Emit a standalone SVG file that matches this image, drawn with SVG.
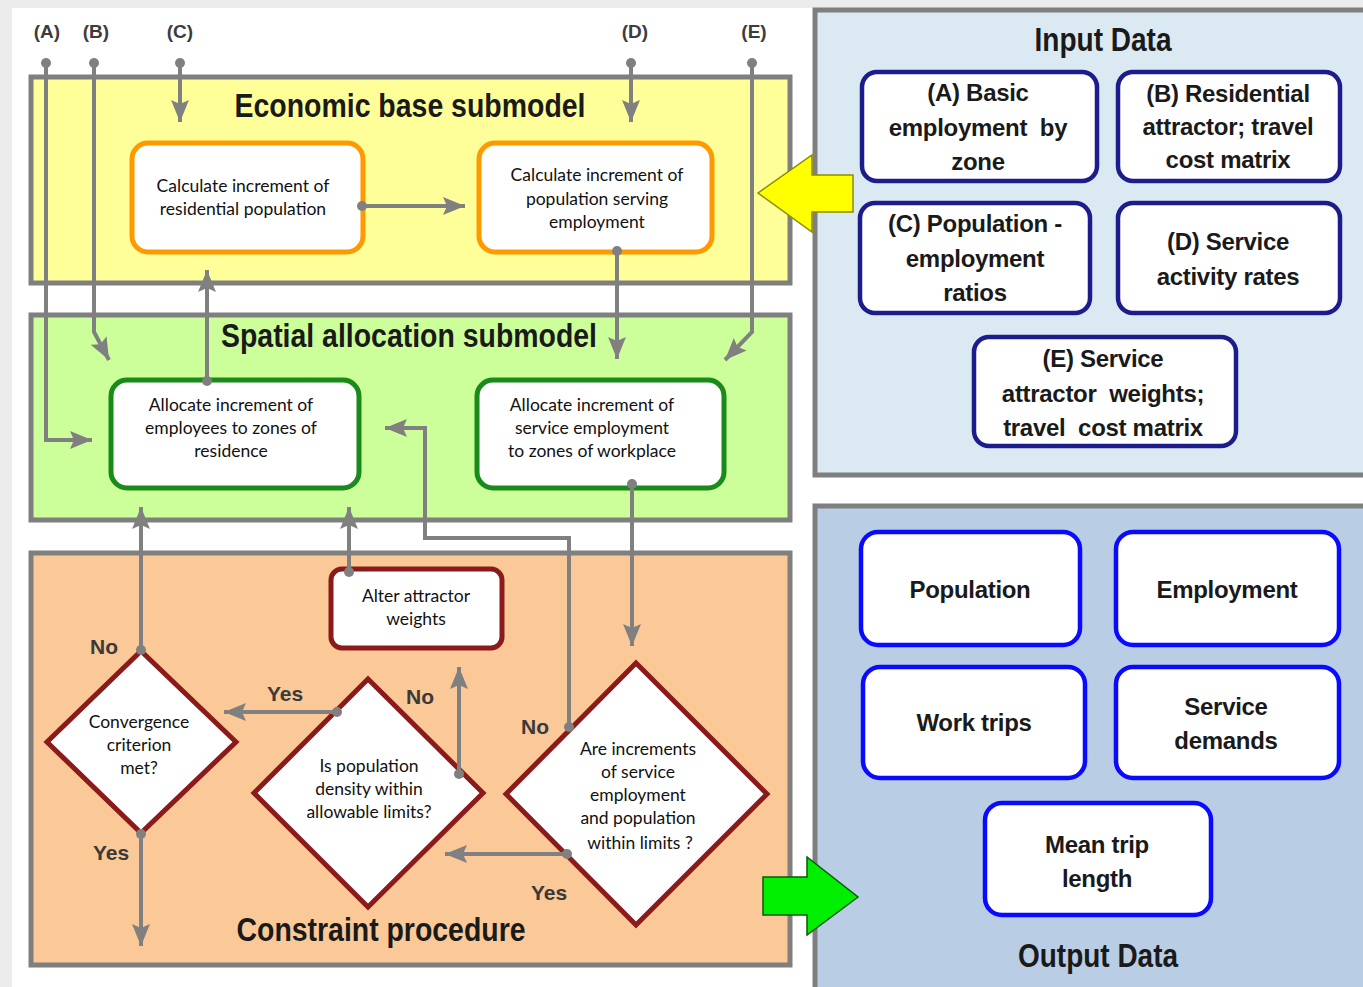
<svg xmlns="http://www.w3.org/2000/svg" width="1363" height="987" viewBox="0 0 1363 987">
  <style>
    .panel { stroke: #7f7f7f; stroke-width: 5; }
    .title { font-family: "Liberation Sans Narrow", "Liberation Sans", Arial, sans-serif; font-weight: bold; font-size: 34px; fill: #1a1a1a; text-anchor: middle; }
    .tag { font-family: "Liberation Sans Narrow", "Liberation Sans", Arial, sans-serif; font-weight: bold; font-size: 19px; fill: #3c3c3c; text-anchor: middle; }
    .yn { font-family: "Liberation Sans Narrow", "Liberation Sans", Arial, sans-serif; font-weight: bold; font-size: 21px; fill: #3a3a3a; text-anchor: middle; }
    .step { font-family: Lato, "Liberation Sans", sans-serif; font-size: 17.5px; fill: #111; text-anchor: middle; }
    .data { font-family: "Liberation Sans", Arial, sans-serif; font-weight: bold; font-size: 24px; fill: #1a1a1a; text-anchor: middle; letter-spacing: -0.3px; }
    .orange { fill: #fff; stroke: #ff9900; stroke-width: 5; }
    .green { fill: #fff; stroke: #1a8a1a; stroke-width: 5; }
    .red { fill: #fff; stroke: #8b1a1a; stroke-width: 5; }
    .navy { fill: #fff; stroke: #1c1c8c; stroke-width: 4.5; }
    .blue { fill: #fff; stroke: #0a0aff; stroke-width: 4.5; }
    .link { fill: none; stroke: #808080; stroke-width: 4; }
  </style>
  <defs>
    <marker id="head" markerUnits="userSpaceOnUse" markerWidth="24" markerHeight="20" refX="22" refY="9" orient="auto">
      <path d="M0,0 L22,9 L0,18 L4,9 z" fill="#808080"/>
    </marker>
    <marker id="dot" markerUnits="userSpaceOnUse" markerWidth="12" markerHeight="12" refX="6" refY="6" orient="auto">
      <circle cx="6" cy="6" r="5" fill="#808080"/>
    </marker>
  </defs>

  <!-- page background -->
  <rect x="0" y="0" width="1363" height="987" fill="#ececec"/>
  <rect x="12" y="8" width="1351" height="979" fill="#ffffff"/>

  <!-- submodel panels -->
  <g id="economic-base">
    <rect class="panel" x="31" y="77" width="759" height="206" fill="#ffff99"/>
    <text class="title" x="410" y="117" textLength="351" lengthAdjust="spacingAndGlyphs">Economic base submodel</text>
  </g>
  <g id="spatial-allocation">
    <rect class="panel" x="31" y="315" width="759" height="205" fill="#ccff99"/>
    <text class="title" x="409" y="347" textLength="376" lengthAdjust="spacingAndGlyphs">Spatial allocation submodel</text>
  </g>
  <g id="constraint-procedure">
    <rect class="panel" x="31" y="553" width="759" height="412" fill="#fbc897"/>
    <text class="title" x="381" y="941" textLength="289" lengthAdjust="spacingAndGlyphs">Constraint procedure</text>
  </g>

  <!-- data panels -->
  <g id="input-data">
    <rect class="panel" x="815" y="10" width="560" height="465" fill="#dbeaf2"/>
    <text class="title" x="1103" y="51" textLength="137" lengthAdjust="spacingAndGlyphs">Input Data</text>
  </g>
  <g id="output-data">
    <rect class="panel" x="815" y="506" width="560" height="495" fill="#b9cde5"/>
    <text class="title" x="1098" y="967" textLength="160" lengthAdjust="spacingAndGlyphs">Output Data</text>
  </g>

  <!-- input labels -->
  <g id="input-tags">
    <text class="tag" x="47" y="38">(A)</text>
    <text class="tag" x="96" y="38">(B)</text>
    <text class="tag" x="180" y="38">(C)</text>
    <text class="tag" x="635" y="38">(D)</text>
    <text class="tag" x="754" y="38">(E)</text>
  </g>

  <!-- block arrows between panels -->
  <path id="input-arrow" d="M758,193 L812,155 L812,175 L853,175 L853,212 L812,212 L812,232 z" fill="#ffff00" stroke="#8c8c00" stroke-width="1.5"/>
  <path id="output-arrow" d="M763,877 L807,877 L807,857 L858,897 L807,935 L807,915 L763,915 z" fill="#00ee00" stroke="#0a5a0a" stroke-width="1.5"/>

  <!-- economic base steps -->
  <g id="calc-residential">
    <rect class="orange" x="132" y="143" width="231" height="109" rx="16"/>
    <text class="step" x="243" y="192">Calculate increment of</text>
    <text class="step" x="243" y="215">residential population</text>
  </g>
  <g id="calc-serving">
    <rect class="orange" x="479" y="143" width="233" height="109" rx="16"/>
    <text class="step" x="597" y="181">Calculate increment of</text>
    <text class="step" x="597" y="205">population serving</text>
    <text class="step" x="597" y="228">employment</text>
  </g>

  <!-- spatial allocation steps -->
  <g id="alloc-residence">
    <rect class="green" x="111" y="380" width="248" height="108" rx="16"/>
    <text class="step" x="231" y="411">Allocate increment of</text>
    <text class="step" x="231" y="434">employees to zones of</text>
    <text class="step" x="231" y="457">residence</text>
  </g>
  <g id="alloc-workplace">
    <rect class="green" x="477" y="380" width="247" height="108" rx="16"/>
    <text class="step" x="592" y="411">Allocate increment of</text>
    <text class="step" x="592" y="434">service employment</text>
    <text class="step" x="592" y="457">to zones of workplace</text>
  </g>

  <!-- constraint procedure -->
  <g id="alter-weights">
    <rect class="red" x="331" y="569" width="171" height="79" rx="11"/>
    <text class="step" x="416" y="602">Alter attractor</text>
    <text class="step" x="416" y="625">weights</text>
  </g>
  <g id="convergence">
    <path class="red" d="M141,651 L236,742 L141,833 L47,742 z"/>
    <text class="step" x="139" y="728">Convergence</text>
    <text class="step" x="139" y="751">criterion</text>
    <text class="step" x="139" y="774">met?</text>
  </g>
  <g id="density-check">
    <path class="red" d="M368,679 L483,793 L368,907 L254,793 z"/>
    <text class="step" x="369" y="772">Is population</text>
    <text class="step" x="369" y="795">density within</text>
    <text class="step" x="369" y="818">allowable limits?</text>
  </g>
  <g id="increment-check">
    <path class="red" d="M636,663 L767,794 L636,925 L506,794 z"/>
    <text class="step" x="638" y="755">Are increments</text>
    <text class="step" x="638" y="778">of service</text>
    <text class="step" x="638" y="801">employment</text>
    <text class="step" x="638" y="824">and population</text>
    <text class="step" x="640" y="849">within limits ?</text>
  </g>

  <!-- decision labels -->
  <g id="decision-labels">
    <text class="yn" x="104" y="654">No</text>
    <text class="yn" x="111" y="860">Yes</text>
    <text class="yn" x="285" y="701">Yes</text>
    <text class="yn" x="420" y="704">No</text>
    <text class="yn" x="535" y="734">No</text>
    <text class="yn" x="549" y="900">Yes</text>
  </g>

  <!-- input data items -->
  <g id="in-a">
    <rect class="navy" x="862" y="72" width="235" height="109" rx="15"/>
    <text class="data" x="978" y="101">(A) Basic</text>
    <text class="data" x="978" y="136" xml:space="preserve">employment  by</text>
    <text class="data" x="978" y="170">zone</text>
  </g>
  <g id="in-b">
    <rect class="navy" x="1118" y="72" width="222" height="109" rx="15"/>
    <text class="data" x="1228" y="102">(B) Residential</text>
    <text class="data" x="1228" y="135">attractor; travel</text>
    <text class="data" x="1228" y="168">cost matrix</text>
  </g>
  <g id="in-c">
    <rect class="navy" x="860" y="203" width="230" height="110" rx="15"/>
    <text class="data" x="975" y="232">(C) Population -</text>
    <text class="data" x="975" y="267">employment</text>
    <text class="data" x="975" y="301">ratios</text>
  </g>
  <g id="in-d">
    <rect class="navy" x="1118" y="203" width="222" height="110" rx="15"/>
    <text class="data" x="1228" y="250">(D) Service</text>
    <text class="data" x="1228" y="285">activity rates</text>
  </g>
  <g id="in-e">
    <rect class="navy" x="974" y="337" width="262" height="109" rx="15"/>
    <text class="data" x="1103" y="367">(E) Service</text>
    <text class="data" x="1103" y="402" xml:space="preserve">attractor  weights;</text>
    <text class="data" x="1103" y="436" xml:space="preserve">travel  cost matrix</text>
  </g>

  <!-- output data items -->
  <g id="out-population">
    <rect class="blue" x="861" y="532" width="219" height="113" rx="17"/>
    <text class="data" x="970" y="598">Population</text>
  </g>
  <g id="out-employment">
    <rect class="blue" x="1116" y="532" width="223" height="113" rx="17"/>
    <text class="data" x="1227" y="598">Employment</text>
  </g>
  <g id="out-work-trips">
    <rect class="blue" x="863" y="667" width="222" height="111" rx="17"/>
    <text class="data" x="974" y="731">Work trips</text>
  </g>
  <g id="out-service-demands">
    <rect class="blue" x="1116" y="667" width="223" height="111" rx="17"/>
    <text class="data" x="1226" y="715">Service</text>
    <text class="data" x="1226" y="749">demands</text>
  </g>
  <g id="out-trip-length">
    <rect class="blue" x="985" y="803" width="226" height="112" rx="17"/>
    <text class="data" x="1097" y="853">Mean trip</text>
    <text class="data" x="1097" y="887">length</text>
  </g>

  <!-- connectors, drawn last so their start dots sit on the box edges -->
  <g id="connectors">
    <path class="link" d="M46,63 L46,440 L92,440" marker-start="url(#dot)" marker-end="url(#head)"/>
    <path class="link" d="M94,63 L94,332 L109,360" marker-start="url(#dot)" marker-end="url(#head)"/>
    <path class="link" d="M180,63 L180,122" marker-start="url(#dot)" marker-end="url(#head)"/>
    <path class="link" d="M631,63 L631,122" marker-start="url(#dot)" marker-end="url(#head)"/>
    <path class="link" d="M752,63 L752,332 L725,360" marker-start="url(#dot)" marker-end="url(#head)"/>
    <path class="link" d="M362,206 L465,206" marker-start="url(#dot)" marker-end="url(#head)"/>
    <path class="link" d="M617,251 L617,359" marker-start="url(#dot)" marker-end="url(#head)"/>
    <path class="link" d="M207,381 L207,270" marker-start="url(#dot)" marker-end="url(#head)"/>
    <path class="link" d="M632,484 L632,646" marker-start="url(#dot)" marker-end="url(#head)"/>
    <path class="link" d="M141,650 L141,507" marker-start="url(#dot)" marker-end="url(#head)"/>
    <path class="link" d="M349,572 L349,507" marker-start="url(#dot)" marker-end="url(#head)"/>
    <path class="link" d="M569,727 L569,538 L425,538 L425,428 L385,428" marker-start="url(#dot)" marker-end="url(#head)"/>
    <path class="link" d="M337,712 L224,712" marker-start="url(#dot)" marker-end="url(#head)"/>
    <path class="link" d="M459,774 L459,667" marker-start="url(#dot)" marker-end="url(#head)"/>
    <path class="link" d="M567,854 L445,854" marker-start="url(#dot)" marker-end="url(#head)"/>
    <path class="link" d="M141,834 L141,946" marker-start="url(#dot)" marker-end="url(#head)"/>
  </g>
</svg>
